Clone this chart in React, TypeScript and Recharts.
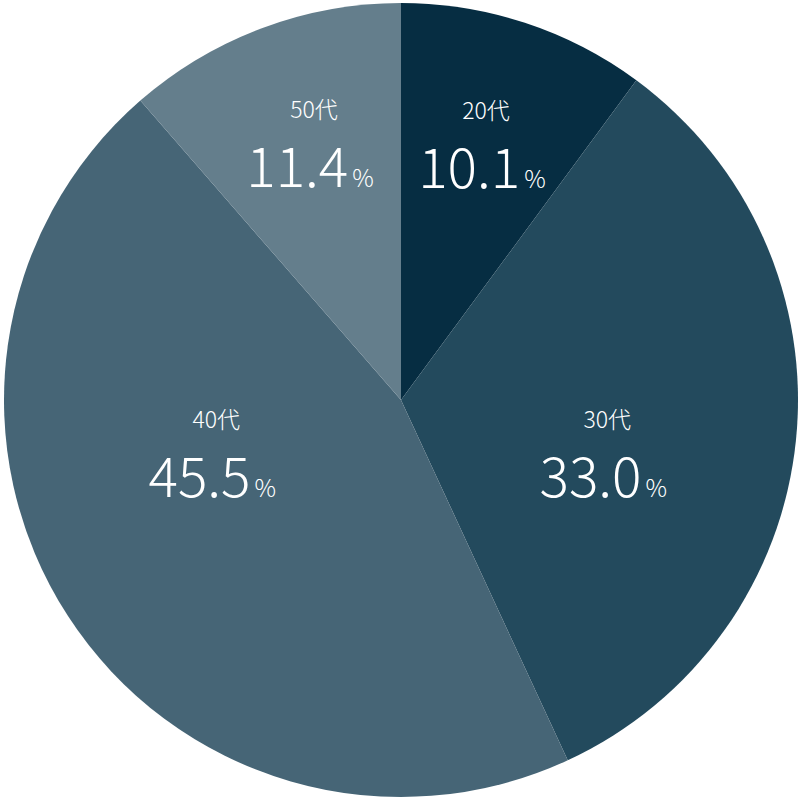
import { PieChart, Pie, Cell } from 'recharts'

const AGE_GROUPS = ['20代', '30代', '40代', '50代']
const SHARES = [10.1, 33.0, 45.5, 11.4]
const SLICE_COLORS = ['#062d42', '#234a5d', '#466576', '#647e8c']

// where each label block sits: clockwise degrees from 12 o'clock, distance from centre
const LABEL_SPOTS = [
  { deg: 18, r: 262 },
  { deg: 106.5, r: 211 },
  { deg: 252.4, r: 198 },
  { deg: 340, r: 266 },
]

const chartData = AGE_GROUPS.map((name, i) => ({ name, value: SHARES[i] }))

const FONT = '"Noto Sans CJK JP", "Noto Sans", sans-serif'

function renderLabel(props: any) {
  const { cx, cy, index } = props
  const spot = LABEL_SPOTS[index]
  const rad = (spot.deg * Math.PI) / 180
  const x = cx + spot.r * Math.sin(rad)
  const y = cy - spot.r * Math.cos(rad)
  return (
    <g key={`lbl-${index}`}>
      <text x={x + 4} y={y - 32} textAnchor="middle" fill="#ffffff" fontFamily={FONT} fontSize={23} fontWeight={300}>
        {AGE_GROUPS[index]}
      </text>
      <text x={x} y={y + 37} textAnchor="middle" fill="#ffffff" fontFamily={FONT} fontWeight={300}>
        <tspan fontSize={55}>{SHARES[index].toFixed(1)}</tspan>
        <tspan fontSize={24} dx={4}>%</tspan>
      </text>
    </g>
  )
}

export default function App() {
  return (
    <div style={{ position: 'absolute', left: 0, top: 0, width: 800, height: 800, background: '#ffffff' }}>
      <PieChart width={800} height={800} margin={{ top: 0, right: 0, bottom: 0, left: 0 }}>
        <Pie
          data={chartData}
          dataKey="value"
          cx={401}
          cy={400}
          innerRadius={0}
          outerRadius={397}
          startAngle={90}
          endAngle={-270}
          stroke="none"
          label={renderLabel}
          labelLine={false}
          isAnimationActive={false}
        >
          {chartData.map((d, i) => (
            <Cell key={d.name} fill={SLICE_COLORS[i]} />
          ))}
        </Pie>
      </PieChart>
    </div>
  )
}
